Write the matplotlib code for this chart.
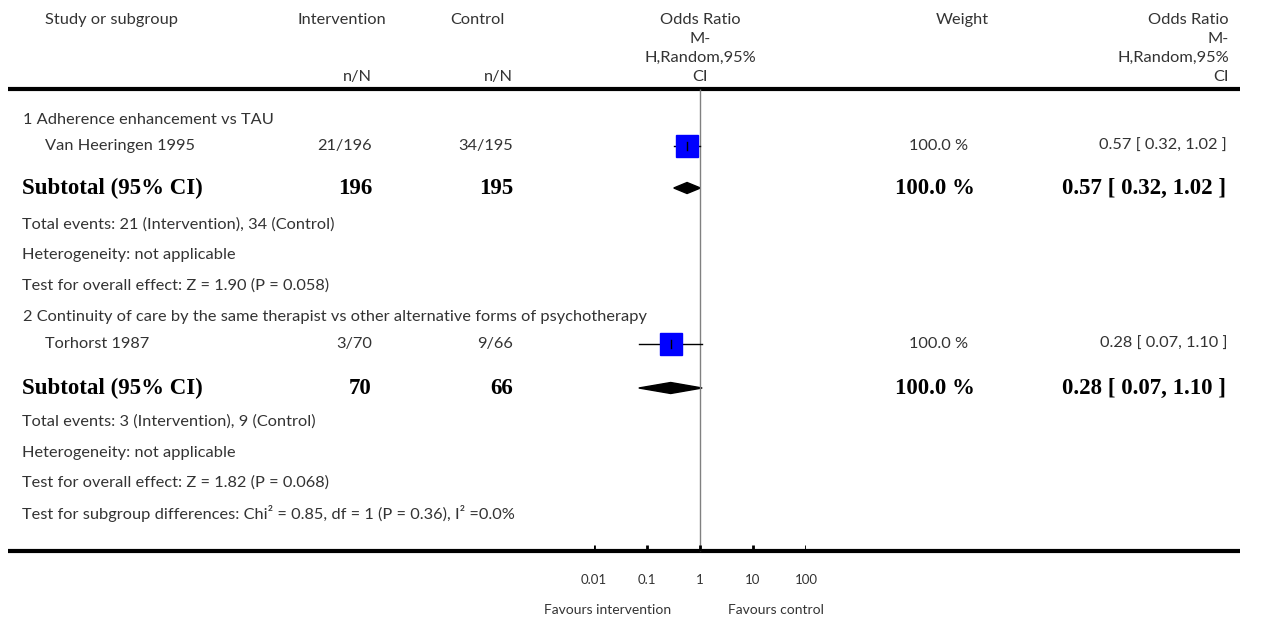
import matplotlib
matplotlib.use("Agg")
import matplotlib.pyplot as plt
from matplotlib.patches import Polygon

# --- data ---
studies = ["Van Heeringen 1995", "Torhorst 1987"]
subgroups = ["1 Adherence enhancement vs TAU",
             "2 Continuity of care by the same therapist vs other alternative forms of psychotherapy"]
int_events = [21, 3]
int_total = [196, 70]
ctl_events = [34, 9]
ctl_total = [195, 66]
odds = [0.57, 0.28]
ci_low = [0.32, 0.07]
ci_high = [1.02, 1.10]
weights = ["100.0 %", "100.0 %"]
overall_z = ["Z = 1.90 (P = 0.058)", "Z = 1.82 (P = 0.068)"]
tick_vals = [0.01, 0.1, 1, 10, 100]
tick_labels = ["0.01", "0.1", "1", "10", "100"]

W, H = 1267, 619
fig = plt.figure(figsize=(W / 100, H / 100), dpi=100)
ax = fig.add_axes([0, 0, 1, 1])
ax.set_xlim(0, W)
ax.set_ylim(H, 0)
ax.axis('off')

# forest panel, log scale, pixel y
fx0, fx1 = 594, 806
axf = fig.add_axes([fx0 / W, 0, (fx1 - fx0) / W, 1])
axf.set_xscale('log')
axf.set_xlim(0.01, 100)
axf.set_ylim(H, 0)
axf.axis('off')

sans = 'Lato'
serif = 'Liberation Serif'
tc = '#333333'
fs = 11.8
bfs = 16.5

def t(x, y, s, ha='left', **kw):
    kw.setdefault('fontsize', fs)
    kw.setdefault('family', sans)
    kw.setdefault('color', tc)
    ax.text(x, y, s, ha=ha, va='center', **kw)

def tb(x, y, s, ha='left'):
    t(x, y, s, ha=ha, family=serif, fontweight='bold', fontsize=bfs, color='black')

# header
t(45, 20, "Study or subgroup")
t(342, 20, "Intervention", ha='center')
t(477, 20, "Control", ha='center')
t(372, 77, "n/N", ha='right')
t(513, 77, "n/N", ha='right')
t(962, 20, "Weight", ha='center')
for i, s in enumerate(["Odds Ratio", "M-", "H,Random,95%", "CI"]):
    t(700, 20 + i * 19, s, ha='center')
    t(1229, 20 + i * 19, s, ha='right')

ax.plot([8, 1240], [89, 89], color='black', lw=3, solid_capstyle='butt')
ax.plot([8, 1240], [551, 551], color='black', lw=3, solid_capstyle='butt')

axf.vlines(1, 89, 551, color='#808080', lw=1)
axf.vlines(tick_vals, 545, 551, color='black', lw=2)
for v, lab in zip(tick_vals, tick_labels):
    axf.text(v, 580, lab, ha='center', va='center', fontsize=9.5, family=sans, color=tc)
t(608, 610, "Favours intervention", ha='center', fontsize=10)
t(776, 610, "Favours control", ha='center', fontsize=10)

# row positions (pixels) for each block
sub_y = [120, 317]
study_y = [146, 344]
total_y = [188, 388]
info_y = [[225, 255, 286], [422, 453, 483]]

for i in range(2):
    t(23, sub_y[i], subgroups[i])
    ys = study_y[i]
    t(45, ys, studies[i])
    t(372, ys, f"{int_events[i]}/{int_total[i]}", ha='right')
    t(513, ys, f"{ctl_events[i]}/{ctl_total[i]}", ha='right')
    t(968, ys, weights[i], ha='right')
    t(1227, ys, f"{odds[i]:.2f} [ {ci_low[i]:.2f}, {ci_high[i]:.2f} ]", ha='right')
    axf.plot([ci_low[i], ci_high[i]], [ys, ys], color='black', lw=1)
    axf.plot([odds[i]], [ys], marker='s', ms=15.8, color='#0000ff', mec='#0000ff')
    axf.plot([odds[i], odds[i]], [ys - 4, ys + 4], color='black', lw=1)

    yt = total_y[i]
    tb(22, yt, "Subtotal (95% CI)")
    tb(372, yt, f"{int_total[i]}", ha='right')
    tb(513, yt, f"{ctl_total[i]}", ha='right')
    tb(975, yt, weights[i], ha='right')
    tb(1226, yt, f"{odds[i]:.2f} [ {ci_low[i]:.2f}, {ci_high[i]:.2f} ]", ha='right')
    dia = Polygon([[ci_low[i], yt], [odds[i], yt - 5.5], [ci_high[i], yt], [odds[i], yt + 5.5]],
                  closed=True, color='black')
    axf.add_patch(dia)

    y1, y2, y3 = info_y[i]
    t(22, y1, f"Total events: {int_events[i]} (Intervention), {ctl_events[i]} (Control)")
    t(22, y2, "Heterogeneity: not applicable")
    t(22, y3, f"Test for overall effect: {overall_z[i]}")

t(22, 513, "Test for subgroup differences: Chi² = 0.85, df = 1 (P = 0.36), I² =0.0%")

fig.savefig('out.png', dpi=100, facecolor='white')
